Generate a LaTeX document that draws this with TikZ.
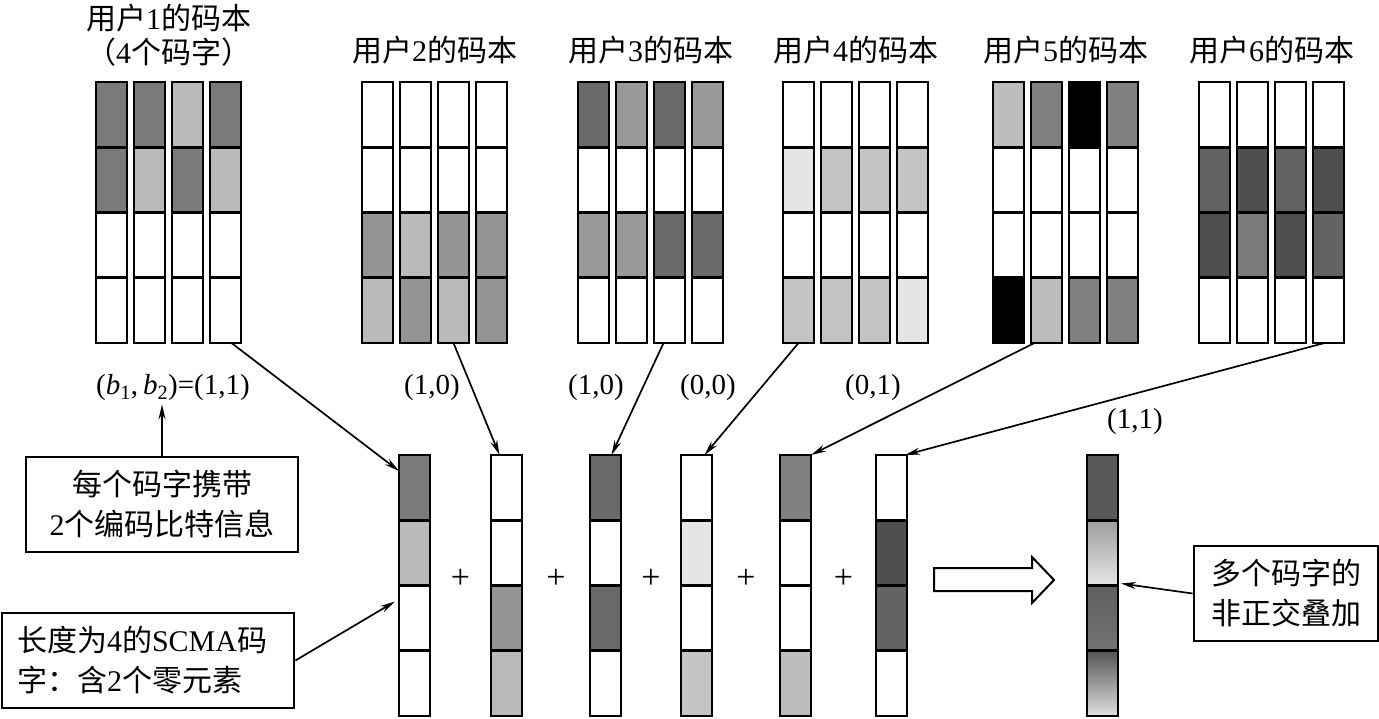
\documentclass[tikz,border=0pt]{standalone}
\usepackage{fontspec}
\setmainfont{Liberation Serif}
\newfontfamily\cjk{Noto Sans CJK SC}
\usepackage{tikz}
\usetikzlibrary{calc,arrows.meta,positioning}
\tikzset{
  ar/.style={-{Stealth[length=15pt,width=7pt]},line width=1.7pt},
  cell/.style={draw,line width=2.8pt},
  cwframe/.style={draw,line width=2.8pt,minimum width=31pt,minimum height=261pt,inner sep=0pt,outer sep=0pt},
  box/.style={draw,line width=2.8pt,inner sep=0pt,minimum height=95pt,align=center,font=\fontsize{30}{40}\selectfont},
  title/.style={font=\fontsize{30}{35}\selectfont,inner sep=0pt},
  lab/.style={font=\fontsize{29}{34}\selectfont,inner sep=1pt},
  plus/.style={font=\fontsize{34}{38}\selectfont,inner sep=0pt}
}
% one codeword: name, left x, top y, four fills from top to bottom
\newcommand{\cword}[7]{%
  \foreach \f [count=\k from 0] in {#4,#5,#6,#7}
    {\filldraw[cell,fill=\f] (#2,#3+65.25*\k) rectangle ++(31,65.25);}
  \node[cwframe] (#1) at (#2+15.5,#3+130.5) {};}

\begin{document}
\begin{tikzpicture}[x=1pt,y=-1pt]
\useasboundingbox (0,0) rectangle (1379,718);

% codebooks
\foreach \fa/\fb/\fc/\fd [count=\j from 0] in {black!52/black!52/white/white,black!52/black!27/white/white,black!27/black!52/white/white,black!52/black!27/white/white}
  {\cword{u1c\j}{96+38*\j}{82}{\fa}{\fb}{\fc}{\fd}}
\foreach \fa/\fb/\fc/\fd [count=\j from 0] in {white/white/black!42/black!27,white/white/black!27/black!42,white/white/black!42/black!27,white/white/black!42/black!42}
  {\cword{u2c\j}{362+38*\j}{82}{\fa}{\fb}{\fc}{\fd}}
\foreach \fa/\fb/\fc/\fd [count=\j from 0] in {black!59/white/black!40/white,black!40/white/black!40/white,black!59/white/black!59/white,black!40/white/black!59/white}
  {\cword{u3c\j}{578+38*\j}{82}{\fa}{\fb}{\fc}{\fd}}
\foreach \fa/\fb/\fc/\fd [count=\j from 0] in {white/black!10/white/black!23,white/black!23/white/black!23,white/black!23/white/black!23,white/black!23/white/black!10}
  {\cword{u4c\j}{783+38*\j}{82}{\fa}{\fb}{\fc}{\fd}}
\foreach \fa/\fb/\fc/\fd [count=\j from 0] in {black!26/white/white/black,black!50/white/white/black!26,black/white/white/black!50,black!50/white/white/black!50}
  {\cword{u5c\j}{993+38*\j}{82}{\fa}{\fb}{\fc}{\fd}}
\foreach \fa/\fb/\fc/\fd [count=\j from 0] in {white/black!61/black!69/white,white/black!69/black!52/white,white/black!61/black!69/white,white/black!69/black!61/white}
  {\cword{u6c\j}{1199+38*\j}{82}{\fa}{\fb}{\fc}{\fd}}

\node[title] (t1) at (168.5,18) {{\cjk 用户}1{\cjk 的码本}};
\node[title] (t1b) at (168.5,52) {{\cjk （}4{\cjk 个码字）}};
\node[title] (t2) at (434.5,50) {{\cjk 用户}2{\cjk 的码本}};
\node[title] (t3) at (650.5,50) {{\cjk 用户}3{\cjk 的码本}};
\node[title] (t4) at (855.5,50) {{\cjk 用户}4{\cjk 的码本}};
\node[title] (t5) at (1065.5,50) {{\cjk 用户}5{\cjk 的码本}};
\node[title] (t6) at (1271.5,50) {{\cjk 用户}6{\cjk 的码本}};

% chosen codewords
\cword{cwA}{399}{455}{black!52}{black!27}{white}{white}
\cword{cwB}{491}{455}{white}{white}{black!42}{black!27}
\cword{cwC}{590}{455}{black!59}{white}{black!59}{white}
\cword{cwD}{681}{455}{white}{black!10}{white}{black!23}
\cword{cwE}{780}{455}{black!50}{white}{white}{black!26}
\cword{cwF}{876}{455}{white}{black!69}{black!61}{white}

\foreach \p/\q in {cwA/cwB,cwB/cwC,cwC/cwD,cwD/cwE,cwE/cwF}
  {\node[plus] (plus\p) at ($(\p)!0.5!(\q)+(0,-7)$) {+};}

% superposition
\fill[black!65] (1087,455) rectangle ++(31,65.25);
\shade[top color=black!38,bottom color=black!10] (1087,520.25) rectangle ++(31,65.25);
\shade[top color=black!63,bottom color=black!55] (1087,585.5) rectangle ++(31,65.25);
\shade[top color=black!67,bottom color=black!12] (1087,650.75) rectangle ++(31,65.25);
\foreach \k in {1,2,3}
  {\draw[cell] (1087,455+65.25*\k) -- ++(31,0);}
\node[cwframe] (res) at (1102.5,585.5) {};

\draw[line width=2pt] (934,568) -- (1032,568) -- (1032,557) -- (1054,580) -- (1032,603) -- (1032,591) -- (934,591) -- cycle;

% bit labels
\node[lab] (l1) at (173,388) {(\textit{b}\textsubscript{1},\,\textit{b}\textsubscript{2})=(1,1)};
\node[lab] (l2) at (432,388) {(1,0)};
\node[lab] (l3) at (596,388) {(1,0)};
\node[lab] (l4) at (708,388) {(0,0)};
\node[lab] (l5) at (873,388) {(0,1)};
\node[lab] (l6) at (1135,422) {(1,1)};

% notes
\node[box,minimum width=272pt] (note1) at (162,504.5) {{\cjk 每个码字携带}\\2{\cjk 个编码比特信息}};
\node[box,align=left,text width=262pt,inner xsep=15pt] (note2) at (148,660.5) {{\cjk 长度为}4{\cjk 的}SCMA{\cjk 码}\\{\cjk 字：含}2{\cjk 个零元素}};
\node[box,minimum width=184pt] (note3) at (1286,593.5) {{\cjk 多个码字的}\\{\cjk 非正交叠加}};

% arrows
\draw[ar] ([xshift=6pt]u1c3.south) -- ([yshift=-16pt]cwA.north west);
\draw[ar] (u2c2.south) -- ([xshift=-7pt]cwB.north);
\draw[ar] ([xshift=-6pt]u3c2.south) -- ([xshift=6pt]cwC.north);
\draw[ar] (u4c0.south) -- ([xshift=8pt]cwD.north);
\draw[ar] ([xshift=-12pt]u5c1.south) -- (cwE.north east);
\draw[ar] ([xshift=-4pt]u6c3.south) -- ([xshift=-2pt]cwF.north east);
\draw[ar] (note1.north) -- ([yshift=-2pt]note1.north |- l1.south);
\draw[ar] (note2.east) -- ([xshift=-4pt,yshift=-16pt]cwA.west);
\draw[ar] (note3.west) -- ([xshift=3pt,yshift=2pt]res.east);
\end{tikzpicture}
\end{document}
